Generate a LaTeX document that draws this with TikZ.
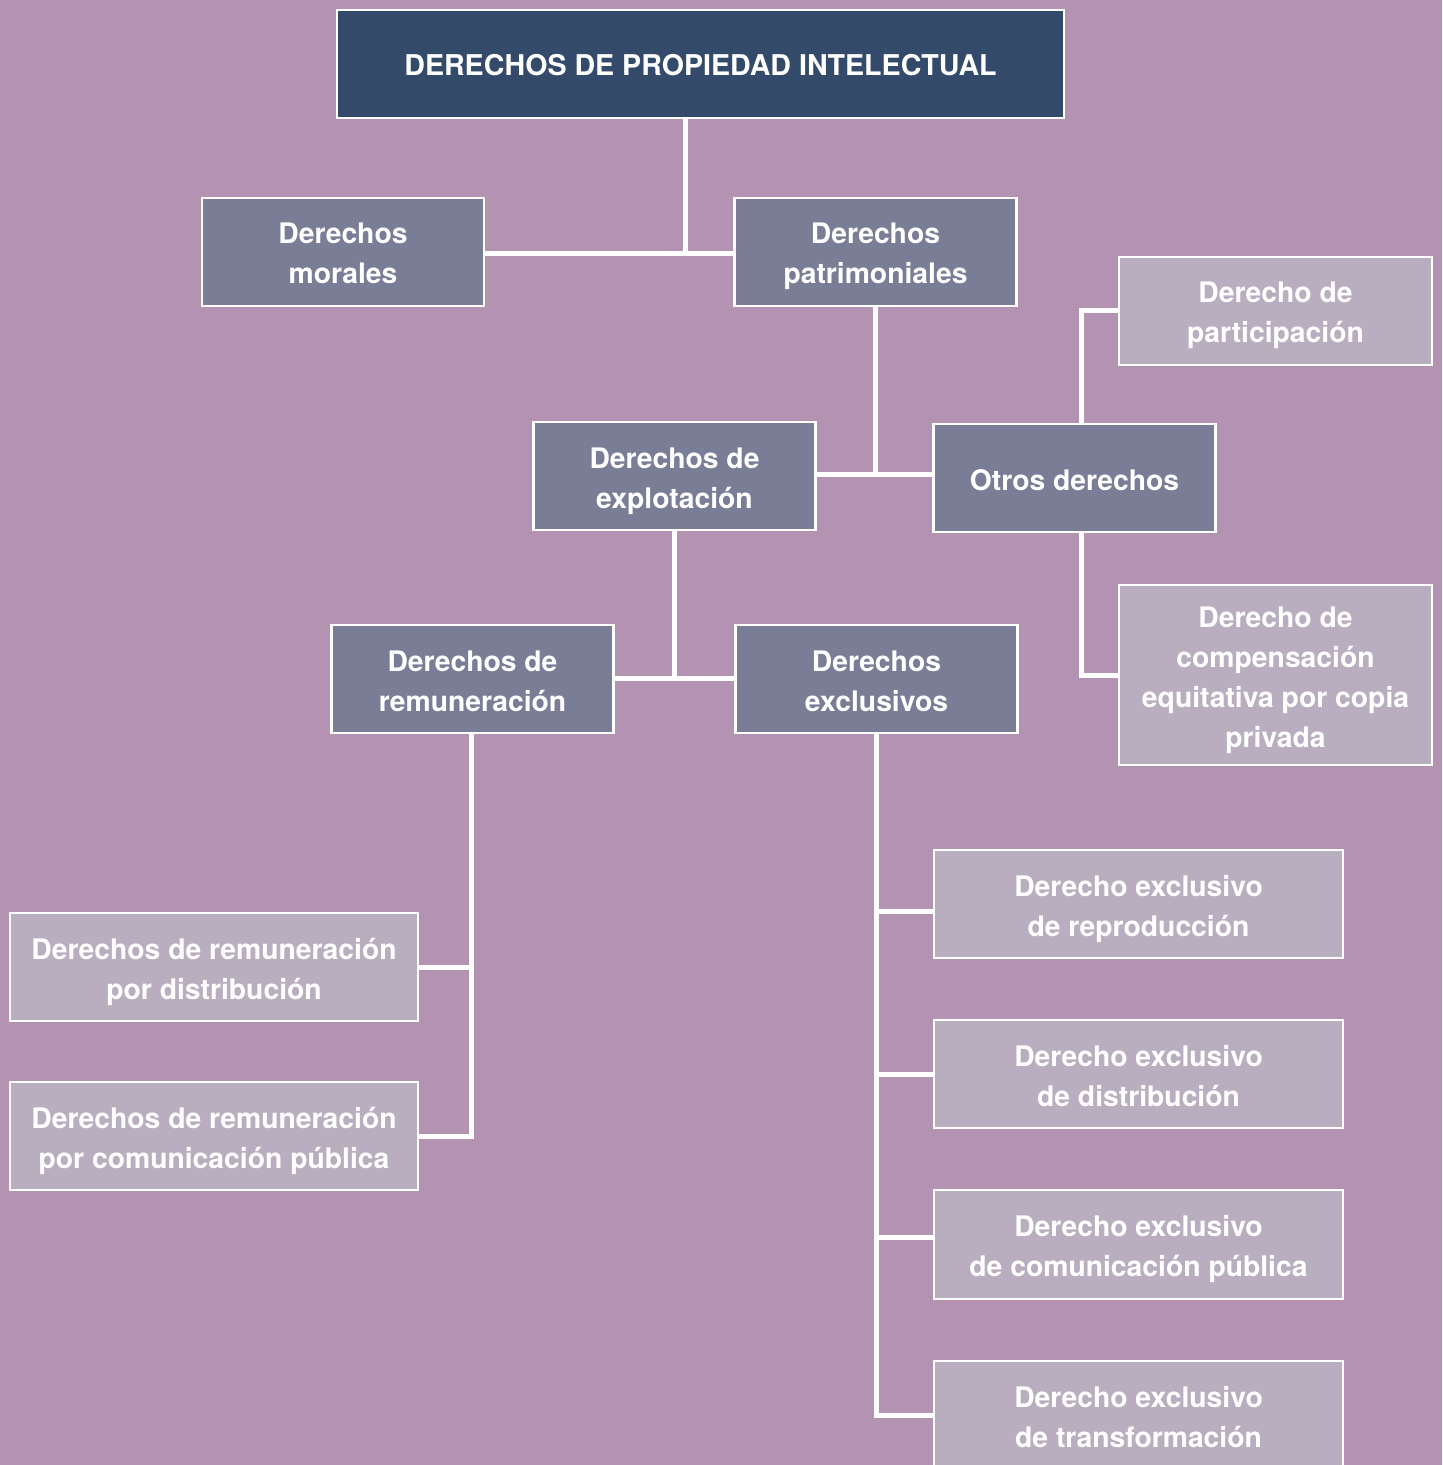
\documentclass[tikz,border=0pt]{standalone}
\usepackage{fontspec}
\setmainfont{TeX Gyre Heros}
\definecolor{bg}{HTML}{B493B2}
\definecolor{navy}{HTML}{344A6B}
\definecolor{slate}{HTML}{797D96}
\definecolor{lightbox}{HTML}{B8AEC0}
\newcommand{\tstr}{\rule{0pt}{16pt}}
\newcommand{\bstr}{\rule[-4pt]{0pt}{4pt}}
\begin{document}
\begin{tikzpicture}[x=0.5pt,y=-0.5pt,
  box/.style={draw=white, line width=1.25pt, text=white, align=center,
    font=\bfseries\fontsize{14.15}{20}\selectfont, inner sep=0pt, outer sep=0pt},
  topbox/.style={box, fill=navy, minimum width=363.5pt, minimum height=54pt},
  midbox/.style={box, fill=slate, minimum width=141pt, minimum height=54pt},
  leafbox/.style={box, fill=lightbox},
  conn/.style={draw=white, line width=2.5pt}]
\clip (0,0) rectangle (1442,1465);
\useasboundingbox (0,0) rectangle (1442,1465);
\fill[bg] (0,0) rectangle (1442,1465);

\node[topbox] (top) at (700.5,64) {\tstr{\fontsize{14.3}{20}\selectfont DERECHOS DE PROPIEDAD INTELECTUAL}\bstr};
\node[midbox] (mor) at (343,252) {\tstr Derechos\\morales\bstr};
\node[midbox] (pat) at (875.5,252) {\tstr Derechos\\patrimoniales\bstr};
\node[leafbox, minimum width=156.5pt, minimum height=54pt] (par) at (1275.5,311) {\tstr Derecho de\\participación\bstr};
\node[midbox] (exp) at (674.5,476) {\tstr Derechos de\\explotación\bstr};
\node[midbox] (otr) at (1074.5,478) {\tstr Otros derechos\bstr};
\node[leafbox, minimum width=156.5pt, minimum height=90pt] (com) at (1275.5,675) {\tstr Derecho de\\compensación\\equitativa por copia\\privada\bstr};
\node[midbox] (rem) at (472.5,679) {\tstr Derechos de\\remuneración\bstr};
\node[midbox] (exc) at (876.5,679) {\tstr Derechos\\exclusivos\bstr};
\node[leafbox, minimum width=204pt, minimum height=54pt] (rpd) at (214,967) {\tstr Derechos de remuneración\\por distribución\bstr};
\node[leafbox, minimum width=204pt, minimum height=54pt] (rpc) at (214,1136) {\tstr Derechos de remuneración\\por comunicación pública\bstr};
\node[leafbox, minimum width=204.5pt, minimum height=54pt] (erp) at (1138.5,904) {\tstr Derecho exclusivo\\de reproducción\bstr};
\node[leafbox, minimum width=204.5pt, minimum height=54pt] (eds) at (1138.5,1074) {\tstr Derecho exclusivo\\de distribución\bstr};
\node[leafbox, minimum width=204.5pt, minimum height=54.5pt] (ecp) at (1138.5,1244.5) {\tstr Derecho exclusivo\\de comunicación pública\bstr};
\node[leafbox, minimum width=204.5pt, minimum height=54pt] (etr) at (1138.5,1415) {\tstr Derecho exclusivo\\de transformación\bstr};

\coordinate (j1) at (685,254);
\draw[conn] (j1 |- top.south) -- (j1);
\draw[conn] (mor.east |- j1) -- (pat.west |- j1);

\coordinate (j2) at (876,474);
\draw[conn] (pat.south) -- (pat.south |- j2);
\draw[conn] (exp.east |- j2) -- (otr.west |- j2);

\coordinate (j3) at (674,678);
\draw[conn] (exp.south) -- (exp.south |- j3);
\draw[conn] (rem.east |- j3) -- (exc.west |- j3);

\coordinate (j4) at (1081,0);
\draw[conn] (j4 |- otr.north) -- (j4 |- par.west) -- (par.west);
\draw[conn] (j4 |- otr.south) -- (j4 |- com.west) -- (com.west);

\coordinate (j5) at (471,0);
\draw[conn] (j5 |- rem.south) -- (j5 |- rpc.east) -- (rpc.east);
\draw[conn] (rpd.east) -- (j5 |- rpd.east);

\coordinate (k1) at (0,911);
\coordinate (k3) at (0,1237);
\draw[conn] (exc.south) -- (exc.south |- etr.west) -- (etr.west);
\draw[conn] (erp.west |- k1) -- (exc.south |- k1);
\draw[conn] (eds.west) -- (exc.south |- eds.west);
\draw[conn] (ecp.west |- k3) -- (exc.south |- k3);
\end{tikzpicture}
\end{document}
